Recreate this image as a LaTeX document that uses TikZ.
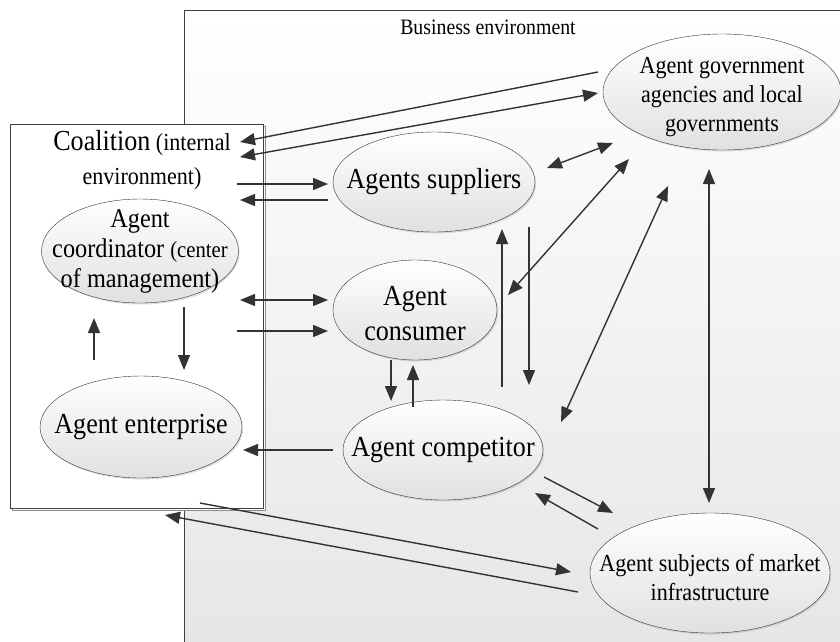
\documentclass[tikz,border=0pt]{standalone}
\usepackage{fontspec}
\setmainfont{Liberation Serif}[FakeStretch=0.9]
\usetikzlibrary{arrows.meta,shapes.geometric,calc,shadows}

\tikzset{
  agent/.style={ellipse, draw=black!80, inner sep=0pt, top color=white, bottom color=black!12,
    drop shadow={shadow xshift=1.2pt, shadow yshift=-1.5pt, opacity=0.25}},
  big/.style={font=\fontsize{29}{35}\selectfont, align=center},
  mid/.style={font=\fontsize{24.5}{29}\selectfont, align=center},
  link/.style={draw=black!80, line width=1.4pt},
  >={Triangle[length=15pt,width=12pt]}
}

\begin{document}
\begin{tikzpicture}[x=1pt,y=-1pt]
    \useasboundingbox (0,0) rectangle (840,641);

    \draw [draw=black!75, top color=white, bottom color=black!10] (184,10) rectangle (860,660);
    \node [font=\fontsize{22}{26}\selectfont] (bizlabel) at (488,27) {Business environment};

    \node [draw=black!75, fill=white, minimum width=253pt, minimum height=384pt, inner sep=0pt,
      copy shadow={shadow xshift=2.5pt, shadow yshift=-2.5pt, draw=black!45, fill=white}] (coal) at (136.5,316) {};
    \node [align=center, font=\fontsize{24.5}{34}\selectfont] (title) at (142,160)
      {{\fontsize{29}{34}\selectfont Coalition} (internal\\environment)};

    \node [agent, minimum width=197pt, minimum height=104pt] (coord) at (140,251) {};
    \node [agent, minimum width=202pt, minimum height=102pt] (ent) at (141,427) {};
    \node [agent, minimum width=202pt, minimum height=100pt] (sup) at (434,182) {};
    \node [agent, minimum width=164pt, minimum height=100pt] (con) at (415,310) {};
    \node [agent, minimum width=200pt, minimum height=100pt] (comp) at (443,450) {};
    \node [agent, minimum width=238pt, minimum height=116pt] (gov) at (722,92) {};
    \node [agent, minimum width=240pt, minimum height=120pt] (mkt) at (710,573) {};

    \node [align=center, font=\fontsize{27}{30}\selectfont] (coordtext) at (coord)
      {Agent\\coordinator {\fontsize{23}{30}\selectfont (center}\\of management)};
    \node [big] (enttext) at (ent) {Agent enterprise};
    \node [big] (suptext) at (sup) {Agents suppliers};
    \node [big] (context) at ([yshift=-4pt]con) {Agent\\consumer};
    \node [big] (comptext) at (comp) {Agent competitor};
    \node [mid] (govtext) at ([yshift=-5pt]gov) {Agent government\\agencies and local\\governments};
    \node [mid] (mkttext) at ([yshift=-4pt]mkt) {Agent subjects of market\\infrastructure};

    \draw [->, link] ($(gov)+(-124,-20)$) -- ($(coal)+(103.5,-174)$);
    \draw [<->, link] ($(coal)+(103.5,-159)$) -- ($(gov)+(-124,1)$);

    \draw [->, link] ($(coal)+(100.5,-132)$) -- ($(sup)+(-106,2)$);
    \draw [->, link] ($(sup)+(-106,18)$) -- ($(coal)+(103.5,-116)$);
    \draw [<->, link] ($(coal)+(103.5,-16)$) -- ($(con)+(-87,-10)$);
    \draw [->, link] ($(coal)+(100.5,15)$) -- ($(con)+(-87,21)$);

    \draw [->, link] ($(coord)+(44,56)$) -- ($(ent)+(43,-57)$);
    \draw [->, link] ($(ent)+(-47,-67)$) -- ($(coord)+(-46,67)$);
    \draw [->, link] ($(comp)+(-110,0)$) -- ($(ent)+(102,23)$);

    \draw [->, link] ($(coal)+(63.5,187)$) -- ($(mkt)+(-139,-1)$);
    \draw [->, link] ($(mkt)+(-132,19)$) -- ($(coal)+(28.5,199)$);

    \draw [<->, link] ($(sup)+(113,-14)$) -- ($(gov)+(-109,51)$);
    \draw [<->, link] ($(con)+(93,-15)$) -- ($(gov)+(-93,67)$);
    \draw [<->, link] ($(comp)+(118,-28)$) -- ($(gov)+(-54,94)$);
    \draw [<->, link] ($(gov)+(-13,77)$) -- ($(mkt)+(-1,-70)$);

    \draw [->, link] ($(comp)+(59,-63)$) -- ($(sup)+(68,47)$);
    \draw [->, link] ($(sup)+(95,45)$) -- ($(comp)+(86,-65)$);
    \draw [->, link] ($(con)+(-24,50)$) -- ($(comp)+(-52,-49)$);
    \draw [->, link] ($(comp)+(-30,-43)$) -- ($(con)+(-2,55)$);

    \draw [->, link] ($(comp)+(101,27)$) -- ($(mkt)+(-97,-60)$);
    \draw [->, link] ($(mkt)+(-112,-44)$) -- ($(comp)+(92,43)$);
  \end{tikzpicture}
\end{document}
